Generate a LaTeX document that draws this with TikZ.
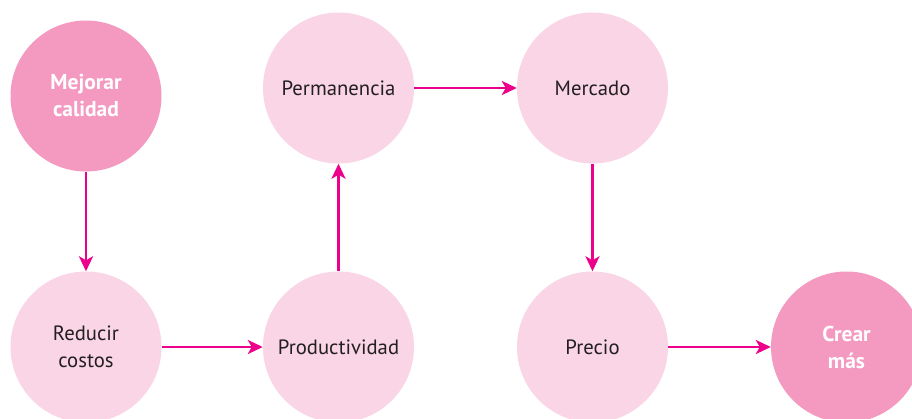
\documentclass[tikz,border=0pt]{standalone}
\usepackage{fontspec}
\setmainfont{PT Sans}
\usetikzlibrary{arrows.meta}
\definecolor{darkpink}{HTML}{F49AC1}
\definecolor{lightpink}{HTML}{F9D5E5}
\definecolor{arrowmag}{HTML}{EC008C}
\definecolor{txtgray}{HTML}{231F20}
\tikzset{
  lightcirc/.style={circle, fill=lightpink, minimum size=151pt, inner sep=0pt, align=center,
    text=txtgray, font=\fontsize{20.7}{26.5}\selectfont},
  darkcirc/.style={circle, fill=darkpink, minimum size=151pt, inner sep=0pt, align=center,
    text=white, font=\fontsize{21.5}{27}\selectfont\bfseries},
  conn/.style={draw=arrowmag, line width=2.7pt,
    -{Stealth[length=15pt, width=14pt, inset=4pt]}},
}
\begin{document}
\begin{tikzpicture}[x=1pt,y=-1pt]
\clip (0,0) rectangle (912,418);
\fill[white] (0,0) rectangle (912,418);
\node[darkcirc]  (mej)  at (86,96)    {Mejorar\\calidad};
\node[lightcirc] (red)  at (86,347)   {Reducir\\costos};
\node[lightcirc] (prod) at (338.5,347) {Productividad};
\node[lightcirc] (perm) at (338.5,88) {Permanencia};
\node[lightcirc] (merc) at (592.5,88) {Mercado};
\node[lightcirc] (prec) at (592.5,347) {Precio};
\node[darkcirc]  (crea) at (846.5,347) {Crear\\más};
\draw[conn] (mej.south) -- (red.north);
\draw[conn] (red.east) -- (prod.west);
\draw[conn] (prod.north) -- (perm.south);
\draw[conn] (perm.east) -- (merc.west);
\draw[conn] (merc.south) -- (prec.north);
\draw[conn] (prec.east) -- (crea.west);
\end{tikzpicture}
\end{document}
